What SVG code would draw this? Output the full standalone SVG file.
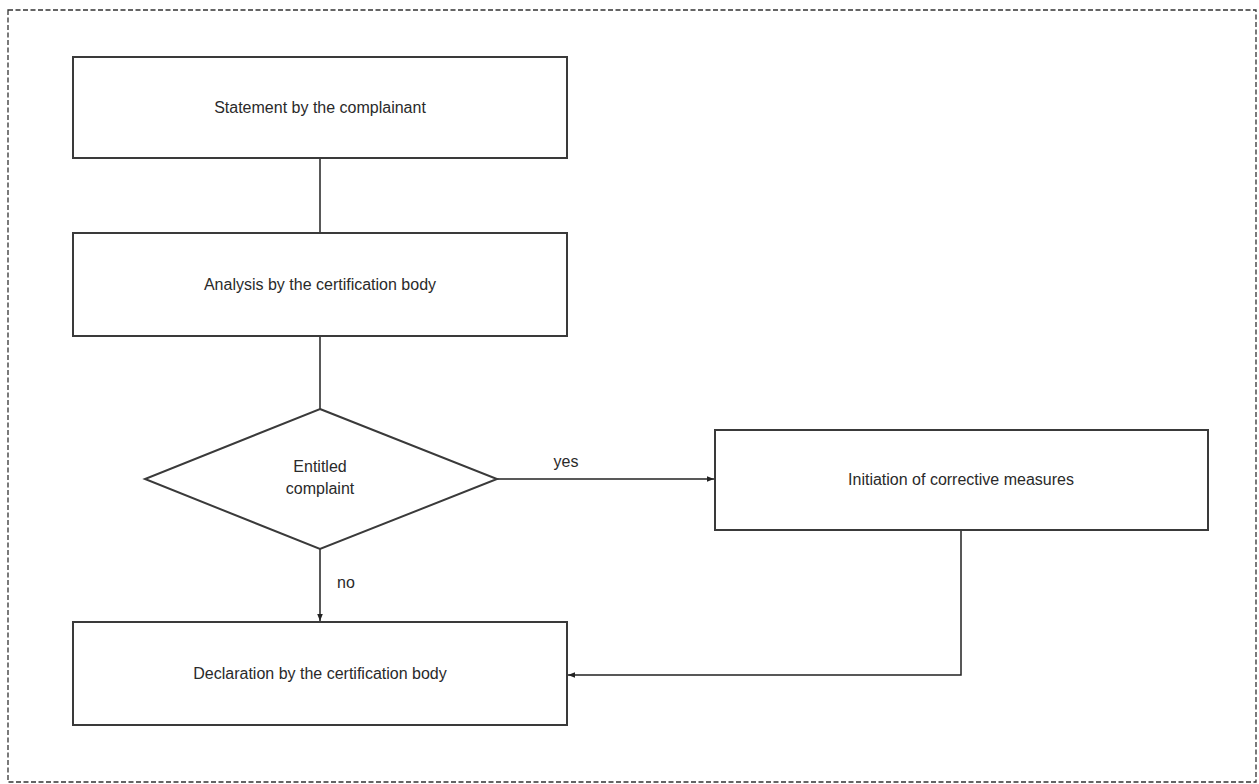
<svg xmlns="http://www.w3.org/2000/svg" width="1259" height="784" viewBox="0 0 1259 784">
<defs>
<marker id="arr" viewBox="0 0 10 10" refX="10" refY="5" markerWidth="8" markerHeight="7" orient="auto" markerUnits="userSpaceOnUse"><path d="M0,1 L10,5 L0,9 z" fill="#222"/></marker>
<style>
.node{fill:#fff;stroke:#3a3a3a;stroke-width:2}
.lbl{font-family:"Liberation Sans",Arial,sans-serif;font-size:16px;fill:#2a2a2a;text-anchor:middle}
.conn{fill:none;stroke:#222;stroke-width:1.5}
</style>
</defs>
<rect width="1259" height="784" fill="#fff"/>
<rect x="8" y="10" width="1248" height="772" fill="none" stroke="#333" stroke-width="1.3" stroke-dasharray="5,2.5"/>
<g id="connectors">
<line class="conn" x1="320" y1="158" x2="320" y2="233"/>
<line class="conn" x1="320" y1="336" x2="320" y2="409"/>
<line class="conn" x1="497" y1="479" x2="714" y2="479" marker-end="url(#arr)"/>
<line class="conn" x1="320" y1="549" x2="320" y2="621" marker-end="url(#arr)"/>
<polyline class="conn" points="961,530 961,675 568,675" marker-end="url(#arr)"/>
<text class="lbl" x="566" y="467">yes</text>
<text class="lbl" x="346" y="588">no</text>
</g>
<g id="n1"><rect class="node" x="73" y="57" width="494" height="101"/><text class="lbl" x="320" y="113">Statement by the complainant</text></g>
<g id="n2"><rect class="node" x="73" y="233" width="494" height="103"/><text class="lbl" x="320" y="290">Analysis by the certification body</text></g>
<g id="n3"><polygon class="node" points="320,409 497,479 320,549 145,479"/><text class="lbl" x="320" y="472">Entitled</text><text class="lbl" x="320" y="494">complaint</text></g>
<g id="n4"><rect class="node" x="715" y="430" width="493" height="100"/><text class="lbl" x="961" y="485">Initiation of corrective measures</text></g>
<g id="n5"><rect class="node" x="73" y="622" width="494" height="103"/><text class="lbl" x="320" y="679">Declaration by the certification body</text></g>
</svg>
